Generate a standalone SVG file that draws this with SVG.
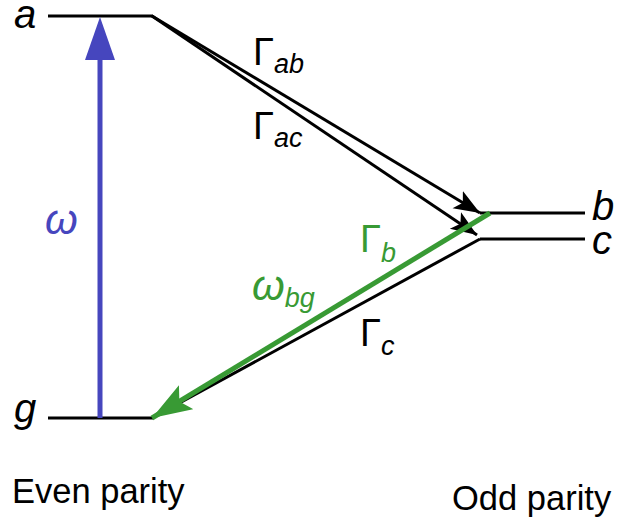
<svg xmlns="http://www.w3.org/2000/svg" width="618" height="521" viewBox="0 0 618 521">
<style>
text{font-family:"Liberation Sans",Arial,sans-serif;}
.lvl{stroke:#000;stroke-width:3.2;fill:none;}
.lbl{font-size:40px;font-style:italic;fill:#000;}
.G{font-size:38px;}
.sub{font-size:27px;font-style:italic;}
.par{font-size:34.5px;fill:#000;}
.k{stroke:#000;stroke-width:3;fill:none;}
</style>
<defs>
<marker id="ak" markerUnits="userSpaceOnUse" markerWidth="30" markerHeight="22" refX="26" refY="10" orient="auto"><path d="M0,0 L26,10 L0,20 L6,10 Z" fill="#000"/></marker>
<marker id="ag" markerUnits="userSpaceOnUse" markerWidth="42" markerHeight="30" refX="40" refY="14" orient="auto"><path d="M0,0 L40,14 L0,28 L8,14 Z" fill="#389a34"/></marker>
</defs>
<g id="level-a"><line class="lvl" x1="48" y1="16" x2="153" y2="16"/><text class="lbl" x="14" y="28">a</text></g>
<g id="level-g"><line class="lvl" x1="48" y1="418" x2="153" y2="418"/><text class="lbl" x="14" y="422">g</text></g>
<g id="level-b"><line class="lvl" x1="480" y1="213" x2="585" y2="213"/><text class="lbl" x="592" y="220">b</text></g>
<g id="level-c"><line class="lvl" x1="480" y1="239" x2="585" y2="239"/><text class="lbl" x="592" y="254">c</text></g>
<g id="connectors">
<line x1="100" y1="418" x2="100" y2="56" stroke="#4646be" stroke-width="5"/>
<path d="M100,17 L115,60 L85,60 Z" fill="#4646be"/>
<line class="k" x1="152" y1="16" x2="480" y2="213" marker-end="url(#ak)"/>
<line class="k" x1="152" y1="16" x2="477" y2="235" marker-end="url(#ak)"/>
<line class="k" x1="480" y1="239" x2="152" y2="418"/>
<line x1="490" y1="213" x2="152" y2="418" stroke="#389a34" stroke-width="5" marker-end="url(#ag)"/>
</g>
<g id="labels">
<text x="253" y="65" class="G">Γ<tspan class="sub" dy="8">ab</tspan></text>
<text x="253" y="139" class="G">Γ<tspan class="sub" dy="8">ac</tspan></text>
<text x="45" y="234" class="lbl" style="fill:#4646be;font-size:42px">ω</text>
<text x="252" y="300" class="lbl" style="fill:#389a34;font-size:42px">ω<tspan class="sub" dy="7">bg</tspan></text>
<text x="360" y="252" class="G" fill="#389a34">Γ<tspan class="sub" dy="10">b</tspan></text>
<text x="360" y="346" class="G">Γ<tspan class="sub" dy="9">c</tspan></text>
<text x="12" y="503" class="par">Even parity</text>
<text x="452" y="510" class="par">Odd parity</text>
</g>
</svg>
